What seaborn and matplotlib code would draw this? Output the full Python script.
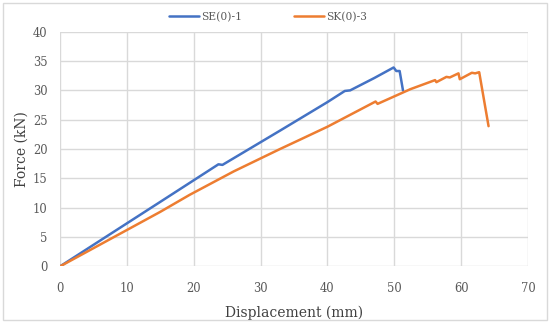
import pandas as pd
import numpy as np
import matplotlib.pyplot as plt
import seaborn as sns
from matplotlib.patches import Rectangle

# Data
se_disp = [0, 15.0, 23.7, 24.3, 33.0, 40.0, 42.6, 43.4, 47.0, 49.9, 50.3, 50.8, 51.3]
se_force = [0, 11.0, 17.4, 17.3, 23.2, 28.0, 29.9, 30.0, 32.1, 33.9, 33.3, 33.3, 30.0]

sk_disp = [0, 15.0, 19.4, 26.0, 32.9, 35.9, 40.0, 47.2, 47.5, 52.4, 56.1, 56.3, 57.8, 58.3,
           59.6, 59.8, 61.6, 62.1, 62.7, 64.1]
sk_force = [0, 9.3, 12.2, 16.2, 20.0, 21.6, 23.8, 28.1, 27.7, 30.2, 31.75, 31.4, 32.3, 32.2,
            32.9, 31.9, 33.0, 32.9, 33.1, 23.9]

series_names = ["SE(0)-1", "SK(0)-3"]
palette = {"SE(0)-1": "#4472C4", "SK(0)-3": "#ED7D31"}

df = pd.concat([
    pd.DataFrame({"disp": se_disp, "force": se_force, "series": series_names[0]}),
    pd.DataFrame({"disp": sk_disp, "force": sk_force, "series": series_names[1]}),
], ignore_index=True)

sns.set_theme(style="white", rc={
    "axes.edgecolor": "#d9d9d9",
    "grid.color": "#d9d9d9",
    "xtick.color": "#595959",
    "ytick.color": "#595959",
    "axes.labelcolor": "#404040",
    "text.color": "#595959",
})
plt.rcParams["font.family"] = ["DejaVu Serif"]

fig = plt.figure(figsize=(5.5, 3.23), dpi=100)
ax = fig.add_axes([60 / 550, 1 - 266.4 / 323, 468 / 550, 234.7 / 323])

sns.lineplot(data=df, x="disp", y="force", hue="series", palette=palette,
             sort=False, estimator=None, linewidth=1.8, ax=ax, legend=False)

ax.set_xlim(0, 70)
ax.set_ylim(0, 40)
ax.set_xticks(range(0, 71, 10))
ax.set_yticks(range(0, 41, 5))
ax.grid(True, color="#d9d9d9", linewidth=1)
ax.set_axisbelow(True)
for s in ax.spines.values():
    s.set_visible(False)
ax.tick_params(axis="both", length=0, labelsize=8.3)
ax.tick_params(axis="x", pad=11)
ax.tick_params(axis="y", pad=9)

ax.set_xlabel("Displacement (mm)", fontsize=10, labelpad=8)
ax.set_ylabel("Force (kN)", fontsize=10, labelpad=3)

# Legend on top
handles = [plt.Line2D([], [], color=palette[n], linewidth=1.8) for n in series_names]
fig.legend(handles, series_names, loc="center", bbox_to_anchor=(268 / 550, 1 - 17 / 323),
           ncol=2, frameon=False, fontsize=7.7, handlelength=2.8, handletextpad=0.2,
           columnspacing=4.8)

# Outer chart border
fig.patches.append(Rectangle((3 / 550, 3 / 323), 544 / 550, 317 / 323,
                             transform=fig.transFigure, fill=False,
                             edgecolor="#d9d9d9", linewidth=1))

plt.savefig("out.png", dpi=100)
